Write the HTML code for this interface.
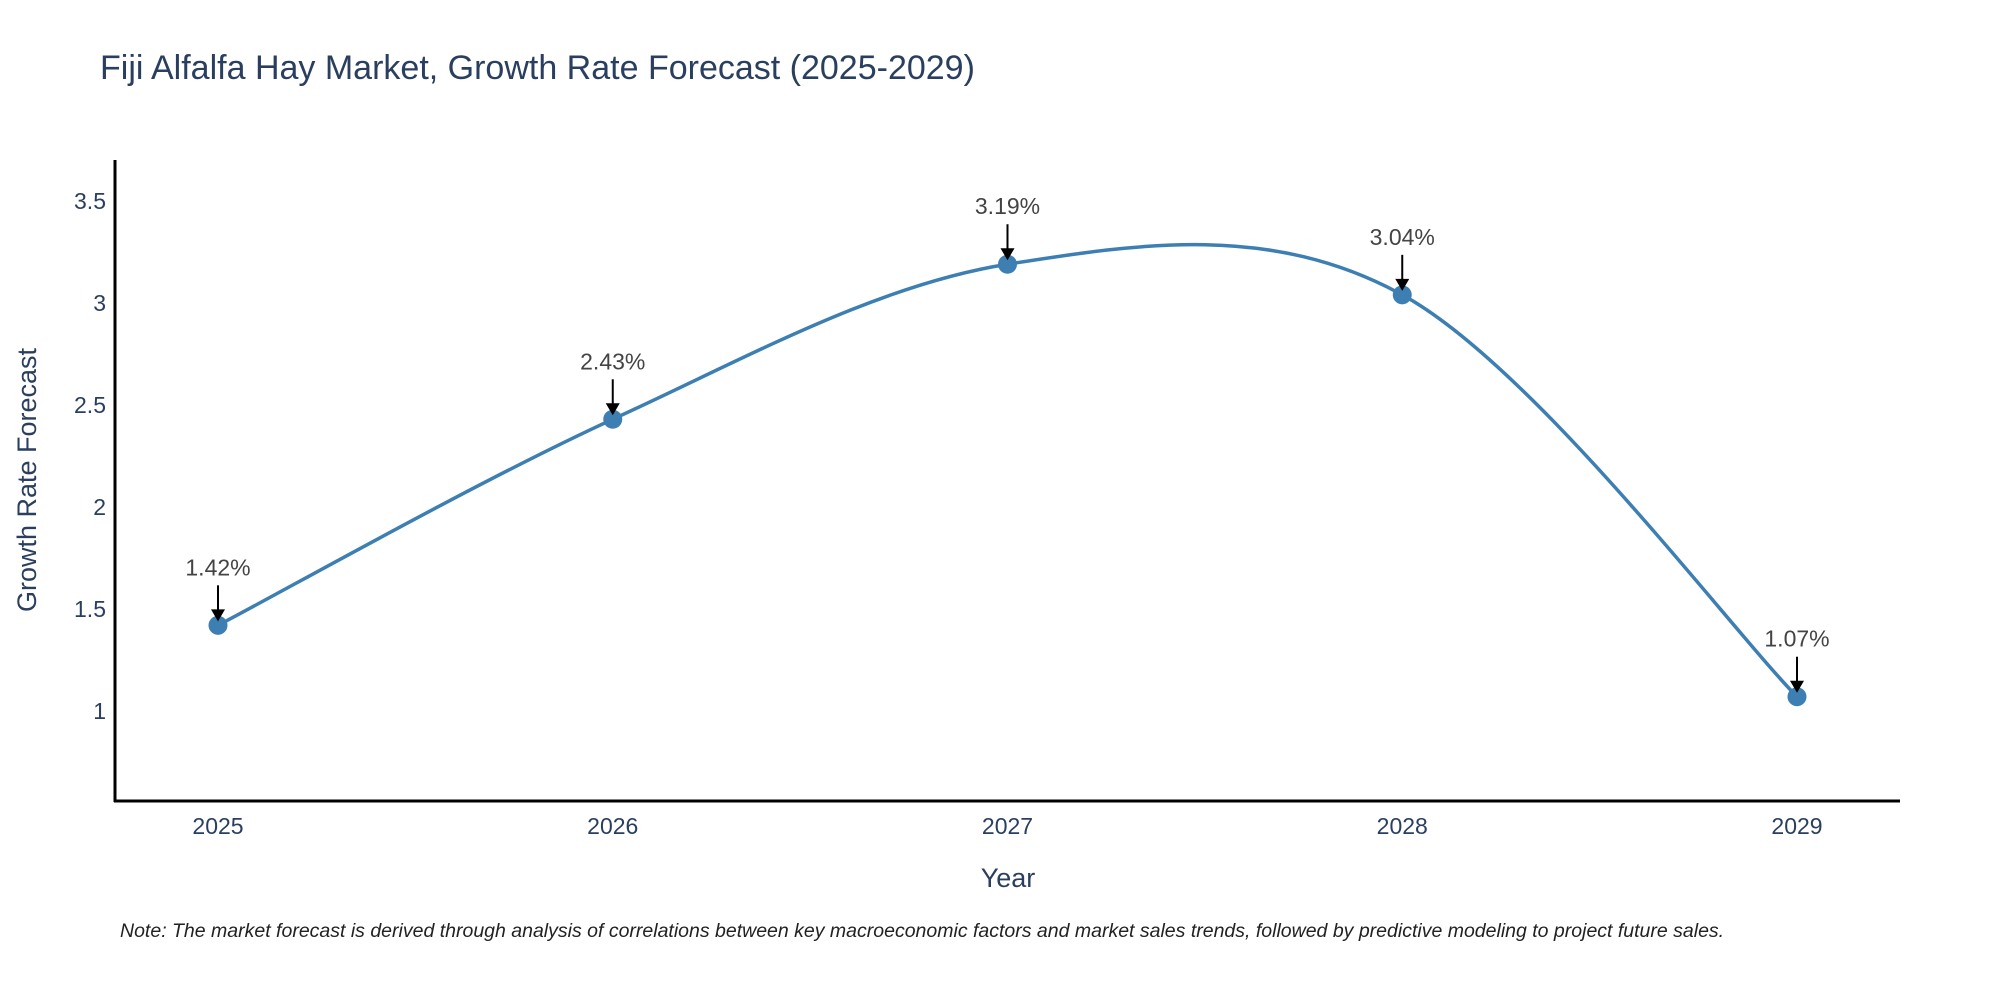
<!DOCTYPE html>
<html><head><meta charset="utf-8"><style>
body{margin:0;background:#fff;}
svg{display:block;font-family:"Liberation Sans","DejaVu Sans",sans-serif;}
</style></head><body>
<svg id="chart" width="2000" height="1000" viewBox="0 0 2000 1000">
<text x="100" y="79" font-size="34" fill="#2a3f5f">Fiji Alfalfa Hay Market, Growth Rate Forecast (2025-2029)</text>
<g id="yticks"></g>
<g id="xticks"></g>
<line x1="115" y1="160" x2="115" y2="802" stroke="#000" stroke-width="3"/>
<line x1="114" y1="801" x2="1900" y2="801" stroke="#000" stroke-width="3"/>
<text transform="translate(36,480) rotate(-90)" text-anchor="middle" font-size="27" fill="#2a3f5f">Growth Rate Forecast</text>
<text x="1008" y="887" text-anchor="middle" font-size="27" fill="#2a3f5f">Year</text>
<path id="line" fill="none" stroke="#3d7fb2" stroke-width="3.5"/>
<g id="marks"></g>
<text x="120" y="937" font-size="19.5" font-style="italic" fill="#222">Note: The market forecast is derived through analysis of correlations between key macroeconomic factors and market sales trends, followed by predictive modeling to project future sales.</text>
</svg>
<script>
const years = [2025, 2026, 2027, 2028, 2029];
const rates = [1.42, 2.43, 3.19, 3.04, 1.07];
const rateLabels = ["1.42%", "2.43%", "3.19%", "3.04%", "1.07%"];
const yTickValues = [1, 1.5, 2, 2.5, 3, 3.5];
const yTickLabels = ["1", "1.5", "2", "2.5", "3", "3.5"];
const NS = "http://www.w3.org/2000/svg";
function xs(yr){ return 218 + (yr - 2025) * 394.75; }
function ys(v){ return 711 - (v - 1) * 204; }
function mk(tag, attrs, parent){ const e=document.createElementNS(NS,tag); for(const k in attrs) e.setAttribute(k,attrs[k]); parent.appendChild(e); return e; }
const yt=document.getElementById('yticks');
yTickValues.forEach((v,i)=>{
  const t=mk('text',{x:106,y:ys(v)+8,'text-anchor':'end','font-size':23,fill:'#2a3f5f'},yt);
  
  
  t.textContent=yTickLabels[i];
});
const xt=document.getElementById('xticks');
years.forEach(y=>{
  const t=mk('text',{x:xs(y),y:834,'text-anchor':'middle','font-size':23,fill:'#2a3f5f'},xt);
  
  
  t.textContent=String(y);
});
const pts=years.map((y,i)=>[xs(y),ys(rates[i])]);
let d=`M${pts[0][0]},${pts[0][1]}`;
const s=0.5;
for(let i=0;i<pts.length-1;i++){
  const p0=pts[Math.max(0,i-1)],p1=pts[i],p2=pts[i+1],p3=pts[Math.min(pts.length-1,i+2)];
  const c1=[p1[0]+(p2[0]-p0[0])*s/3,p1[1]+(p2[1]-p0[1])*s/3];
  const c2=[p2[0]-(p3[0]-p1[0])*s/3,p2[1]-(p3[1]-p1[1])*s/3];
  d+=` C${c1[0]},${c1[1]} ${c2[0]},${c2[1]} ${p2[0]},${p2[1]}`;
}
document.getElementById('line').setAttribute('d',d);
const mg=document.getElementById('marks');
pts.forEach((p,i)=>{
  const c=mk('circle',{cx:p[0],cy:p[1],r:9.5,fill:'#3d7fb2'},mg);
  
  
  const l=mk('line',{x1:p[0],y1:p[1]-40,x2:p[0],y2:p[1]-14,stroke:'#000','stroke-width':2},mg);
  
  
  const a=mk('polygon',{points:`${p[0]-7},${p[1]-16} ${p[0]+7},${p[1]-16} ${p[0]},${p[1]-4}`,fill:'#000'},mg);
  
  
  const t=mk('text',{x:p[0],y:p[1]-50,'text-anchor':'middle','font-size':23,fill:'#444'},mg);
  
  
  t.textContent=rateLabels[i];
});
</script>
</body></html>
